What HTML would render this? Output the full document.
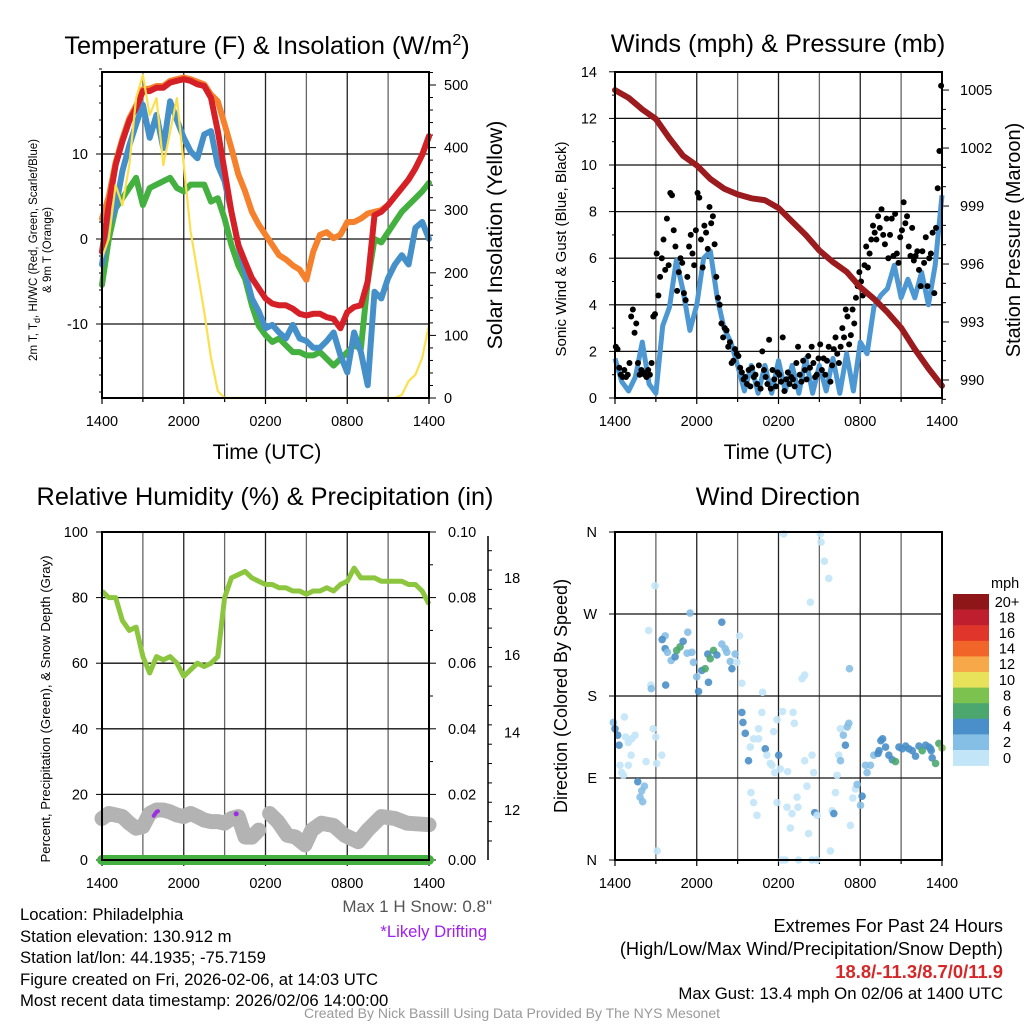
<!DOCTYPE html>
<html><head><meta charset="utf-8"><style>
html,body{margin:0;padding:0;background:#fff;}
svg{display:block;font-family:"Liberation Sans",Arial,sans-serif;}
</style></head><body>
<svg id="chart" width="1024" height="1024" viewBox="0 0 1024 1024" xmlns="http://www.w3.org/2000/svg">
<rect width="1024" height="1024" fill="#fff"/>
<g id="p1"></g>
<g id="p2"></g>
<g id="p3"></g>
<g id="p4"></g>
<g id="txt">
<text x="267" y="54" font-size="25.3" text-anchor="middle">Temperature (F) &amp; Insolation (W/m<tspan dy="-9" font-size="16">2</tspan><tspan dy="9">)</tspan></text>
<text x="778" y="52" font-size="25.3" text-anchor="middle">Winds (mph) &amp; Pressure (mb)</text>
<text x="265" y="505" font-size="25.3" text-anchor="middle">Relative Humidity (%) &amp; Precipitation (in)</text>
<text x="778" y="505" font-size="25.3" text-anchor="middle">Wind Direction</text>
<text x="267" y="459" font-size="21" text-anchor="middle">Time (UTC)</text>
<text x="778" y="459" font-size="21" text-anchor="middle">Time (UTC)</text>
<g transform="translate(37,250) rotate(-90)"><text x="0" y="0" font-size="11.5" text-anchor="middle">2m T, T<tspan dy="3" font-size="9">d</tspan><tspan dy="-3">, HI/WC (Red, Green, Scarlet/Blue)</tspan></text><text x="0" y="14" font-size="11.5" text-anchor="middle">&amp; 9m T (Orange)</text></g>
<text transform="translate(502,235) rotate(-90)" font-size="21.4" text-anchor="middle">Solar Insolation (Yellow)</text>
<text transform="translate(566,249) rotate(-90)" font-size="15" text-anchor="middle">Sonic Wind &amp; Gust (Blue, Black)</text>
<text transform="translate(1020,240) rotate(-90)" font-size="20" text-anchor="middle">Station Pressure (Maroon)</text>
<text transform="translate(50,709) rotate(-90)" font-size="13.2" text-anchor="middle">Percent, Precipitation (Green), &amp; Snow Depth (Gray)</text>
<text transform="translate(567,696) rotate(-90)" font-size="18" text-anchor="middle">Direction (Colored By Speed)</text>
<g font-size="16.7">
<text x="20" y="920">Location: Philadelphia</text>
<text x="20" y="942">Station elevation: 130.912 m</text>
<text x="20" y="963">Station lat/lon: 44.1935; -75.7159</text>
<text x="20" y="985">Figure created on Fri, 2026-02-06, at 14:03 UTC</text>
<text x="20" y="1006">Most recent data timestamp: 2026/02/06 14:00:00</text>
</g>
<text x="492" y="912" font-size="17" fill="#555" text-anchor="end">Max 1 H Snow: 0.8"</text>
<text x="487" y="937" font-size="16.7" fill="#a020f0" text-anchor="end">*Likely Drifting</text>
<text x="1003" y="932" font-size="18.2" text-anchor="end">Extremes For Past 24 Hours</text>
<text x="1003" y="955" font-size="18.2" text-anchor="end">(High/Low/Max Wind/Precipitation/Snow Depth)</text>
<text x="1003" y="978" font-size="18.4" font-weight="bold" fill="#d62728" text-anchor="end">18.8/-11.3/8.7/0/11.9</text>
<text x="1003" y="999" font-size="16.8" text-anchor="end">Max Gust: 13.4 mph On 02/06 at 1400 UTC</text>
<text x="512" y="1018" font-size="14" fill="#999" text-anchor="middle">Created By Nick Bassill Using Data Provided By The NYS Mesonet</text>
</g>
</svg>
<script>
// ---- data ----
const xTickLabels = ["1400","2000","0200","0800","1400"];
const tempRed = [-1.5,4,8.7,11.5,13.9,15.4,17.4,17.4,17.8,17.8,18.4,18.6,18.8,18.6,18.2,18,16.6,12.7,8,3.2,-0.7,-2.7,-4.6,-5.8,-7,-7.6,-7.8,-7.8,-8.2,-8.8,-9,-8.8,-8.8,-9.2,-9.4,-10.5,-8.6,-8,-7.8,-5,2.8,3.2,4,5,6,7,8.3,9.9,12.1];
const tempOrange = [2.4,5,9,11.8,14.2,15.7,17.6,17.7,18,18,18.6,18.8,19,18.8,18.5,18.2,17,16.2,13.5,10.7,7.6,5.6,3.2,1.7,0.5,-0.7,-1.9,-2.4,-3.1,-3.6,-4.8,-1.5,0.5,0.8,0.1,0.5,2,2,2.4,3,3.2,3.4,4,5,6,7,8.3,9.9,12.1];
const tempBlue = [-3,1.7,3.6,8,11,13.5,15.8,11.9,14.6,10.7,16.2,14,11.9,10.3,9.5,12.3,12.7,8.7,6.8,3.2,-0.7,-3.9,-7,-8.5,-10.5,-10.1,-11,-11.7,-10.1,-11.7,-12,-12.8,-12.8,-12,-11,-13.7,-15.7,-11,-13.3,-17.2,-6.2,-7,-4.6,-3,-1.9,-3,1.3,2,0];
const tempGreen = [-5.4,0,3.6,4.8,6,7.2,4,6,6.4,6.8,7.2,6,5.6,6.4,6.4,6.4,4.4,4.8,2.4,-0.7,-3.1,-4.7,-7.8,-10.2,-11.3,-12.1,-11.7,-12.5,-13.3,-13.3,-13.7,-13.7,-13.3,-14.1,-14.9,-14.1,-13.3,-12.5,-12.9,-5,0,-0.4,0.8,2,3.2,4,4.8,5.6,6.6];
const insolation = [223,255,340,308,372,479,516,452,479,372,425,479,372,266,202,138,64,11,0,0,0,0,0,0,0,0,0,0,0,0,0,0,0,0,0,0,0,0,0,0,0,0,0,0,5,27,37,64,117];
const tempTicks = [10,0,-10];
const solarTicks = [500,400,300,200,100,0];

const windSpeed = [1.7,0.7,0.3,0.9,2.4,0.6,0.2,3.1,3.9,5.9,4.6,2.9,4,6,6.3,4.3,3,2.4,1.4,0.3,1.4,0.2,1.4,0.2,1.6,0.3,1.4,0.2,1.7,0.2,1.4,0.3,1.7,0.2,1.9,0.3,2.4,1.9,3.9,4.4,4.7,5.7,4.3,5.1,4.3,5.4,4,5.7,8.7];
const gusts = [2.2,2.1,1.3,1.0,0.9,1.2,0.9,1.0, 1.5,3.5,3.8,2.8,3.2,1.5,1.0,1.2, 1.1,1.0,0.9,1.2,1.0,1.5,3.5,3.6, 6.2,4.4,5.2,6.0,6.8,5.5,7.7,5.7, 8.8,8.7,7.2,6.5,4.6,5.4,6.0,5.8, 4.5,4.2,5.2,6.5,7.0,6.2,5.7,7.2, 8.8,8.6,6.8,5.6,7.4,7.1,6.4,8.2, 7.5,7.8,6.6,5.2,4.3,4.0,3.2,2.6, 3.0,2.9,2.2,2.4,1.5,1.6,2.1,1.9, 1.8,1.3,1.1,0.8,0.9,0.6,1.2,0.5, 1.3,0.9,1.0,0.6,1.4,0.4,2.0,1.2, 0.9,0.6,2.5,0.4,1.2,0.8,0.5,1.1, 1.0,0.7,2.6,0.3,0.8,1.1,0.6,0.9, 0.8,0.5,1.5,2.2,1.0,0.7,1.6,1.2, 0.8,1.8,1.3,2.2,1.5,0.9,1.0,1.7, 2.3,1.2,1.7,1.0,1.6,2.2,0.7,1.4, 2.1,2.6,1.9,1.5,2.2,3.0,2.6,3.8, 3.5,2.3,2.7,3.8,3.2,4.3,4.8,5.4, 5.0,4.4,5.7,6.5,5.6,6.2,6.8,7.4, 7.1,6.8,7.8,7.3,8.1,7.0,6.6,7.7, 6.0,7.0,7.7,6.1,7.9,6.2,5.8,6.9, 7.2,8.4,7.5,7.8,6.5,6.1,7.3,5.9, 6.1,6.3,5.5,4.8,6.3,5.8,6.9,4.8, 6.0,6.2,7.1,4.5,7.3,9.0,10.6,13.4];
const pressure = [1005.0,1004.6,1004.0,1003.5,1002.5,1001.6,1001.1,1000.4,999.9,999.6,999.4,999.3,998.9,998.2,997.5,996.7,996.1,995.6,994.8,994.2,993.5,992.7,991.6,990.6,989.7];
const windTicks = [0,2,4,6,8,10,12,14];
const pressureTicks = [1005,1002,999,996,993,990];

const humidity = [82,80,80,73,70,71,62,57,62,61,62,60,56,58,60,59,60,62,80,86,87,88,86,85,84,84,83,83,82,82,81,82,82,83,82,84,85,89,86,86,86,85,85,85,85,84,84,82,78];
const snowHours = [0,0.5,1,1.5,2,2.5,3,3.5,4,4.5,5,5.5,6,6.5,7,7.5,8,8.5,9,9.5,10,10.5,11,11.5,null,12.3,12.9,13.6,14.2,14.9,15.4,16.1,17,17.8,18.8,19.5,20.5,21.5,22.4,24];
const snowDepth = [11.78,11.91,11.87,11.83,11.66,11.53,11.57,11.91,12.0,12.0,11.95,11.87,11.83,11.91,11.83,11.74,11.7,11.7,11.66,11.78,11.83,11.3,11.3,11.48,null,11.91,11.7,11.35,11.3,11.1,11.48,11.66,11.6,11.35,11.18,11.48,11.83,11.78,11.66,11.62];
const driftHours = [3.8,3.9,4.0,4.1,9.85];
const driftDepth = [11.85,11.9,11.95,11.97,11.9];
const precip = [0,0];
const rhTicks = [0,20,40,60,80,100];
const precipTicks = ["0.00","0.02","0.04","0.06","0.08","0.10"];
const snowTicks = [12,14,16,18];

const dirHours = [-0.12,0,0.2,0.3,0.69,0.78,0.98,1.23,1.47,1.18,0.98,0.37,0.49,0.61,1.67,1.96,2.16,1.84,2.03,2.28,3.06,2.8,2.99,3.43,3.1,2.94,2.47,2.63,2.66,3.68,3.46,4.12,4.41,3.68,3.85,3.72,4.53,4.78,5.0,5.29,5.34,5.51,5.64,5.76,6.0,6.13,6.37,6.81,6.99,6.62,6.86,7.23,7.48,7.84,7.84,8.09,8.21,8.46,8.58,8.82,8.94,9.14,9.31,9.31,9.39,9.56,9.8,9.98,10.17,10.42,10.54,10.54,10.78,10.83,11.03,11.15,11.4,11.52,11.72,11.89,11.89,12.01,12.13,12.3,12.38,12.62,12.67,12.87,12.99,13.07,13.16,13.36,13.43,13.73,13.92,13.92,14.09,14.21,14.34,14.58,14.46,14.66,14.83,15.07,15.12,15.37,15.69,15.81,15.93,16.06,16.18,16.3,16.42,16.54,16.55,16.76,16.91,17.04,17.16,17.21,17.28,17.45,17.65,17.77,18.02,18.14,18.38,18.5,18.75,18.99,19.31,19.38,19.51,19.64,19.86,20.1,20.35,20.59,20.84,21.08,21.33,21.57,21.82,22.06,22.31,22.55,22.8,23.04,23.21,23.16,23.28,23.53,23.77,24.0,9.93,10.17,11.64,12.25,12.5,13.48,14.46,14.83];
const dirDeg = [151,144,137,126,157,135,129,133,137,115,104,104,96,93,86,76,81,69,64,108,106,144,135,115,10,301,252,192,188,246,242,219,223,232,228,192,230,234,240,227,250,271,228,217,201,185,208,226,221,210,195,230,225,261,237,232,228,218,210,226,217,246,194,162,151,139,109,74,63,49,144,133,162,184,122,115,106,104,96,63,154,115,100,163,358,58,97,35,51,162,150,69,58,199,203,109,81,29,283,96,115,52,49,358,349,328,309,10,54,51,74,93,115,144,109,137,126,146,150,210,38,68,78,83,60,70,104,96,104,115,117,120,131,133,124,115,110,108,124,122,125,122,120,114,125,120,126,124,120,122,112,106,128,123,124,133,141,0,0,0,0,0,0,0,0];
const dirSpeed = [3,5,5,5,1,1,1,1,1,1,1,1,1,1,5,3,3,3,3,1,1,1,1,1,1,1,1,1,3,3,5,3,5,5,3,5,7,7,5,3,3,3,3,3,3,5,5,5,7,7,5,7,5,5,3,3,3,3,5,3,1,1,1,5,5,5,5,1,1,1,1,1,1,1,5,1,1,1,1,1,1,5,1,1,1,1,1,1,1,1,1,1,1,1,1,1,1,1,1,1,1,5,1,1,1,1,1,1,1,5,1,1,1,1,3,3,5,3,3,3,1,1,1,3,3,5,3,3,3,3,5,5,5,5,5,5,5,7,5,5,5,5,5,5,5,7,5,5,5,5,5,7,7,9,1,1,1,1,1,1,1,1];
const speedBins = ["0","2","4","6","8","10","12","14","16","18","20+"];
const speedColors = ["#c2e5f8","#86bfe6","#4a8fc9","#4ca76e","#7cc24f","#e8e15a","#f7a848","#f26529","#e0352b","#be1e2d","#8e1518"];
const dirTicks = ["N","E","S","W","N"];

// ---- helpers ----
const NS = "http://www.w3.org/2000/svg";
function mk(parent, tag, attrs){ const e=document.createElementNS(NS,tag); for(const k in attrs) e.setAttribute(k,attrs[k]); parent.appendChild(e); return e; }
function txt(parent, x, y, s, size, anchor, fill){ const t=mk(parent,'text',{x:x,y:y,'font-size':size,'text-anchor':anchor||'start',fill:fill||'#000'}); t.textContent=s; return t; }
function pathFrom(xs, ys){ let d='', pen=false; for(let i=0;i<xs.length;i++){ if(xs[i]===null||ys[i]===null){pen=false;continue;} d+=(pen?'L':'M')+xs[i].toFixed(1)+','+ys[i].toFixed(1); pen=true; } return d; }
function halfHours(n){ const a=[]; for(let i=0;i<n;i++) a.push(i*0.5); return a; }

function frame(g, L, T, R, B, hgrid, name){
  for(let h=3;h<24;h+=3){ const x=L+h*(R-L)/24;
    const ln=mk(g,'line',{x1:x,y1:T,x2:x,y2:B,stroke:(h%6===0?'#222':'#666'),'stroke-width':1.3});
      }
  hgrid.forEach(y=>{ const ln=mk(g,'line',{x1:L,y1:y,x2:R,y2:y,stroke:'#111','stroke-width':1.3});
      });
  for(let i=0;i<=8;i++){ const x=L+i*(R-L)/8; mk(g,'line',{x1:x,y1:B,x2:x,y2:B+(i%2===0?6:4),stroke:'#000','stroke-width':1.2}); }
  xTickLabels.forEach((s,i)=>{ const t=txt(g, L+i*(R-L)/4, B+28, s, 14.5, 'middle');
      });
}
function box(g,L,T,R,B,name){ const r=mk(g,'rect',{x:L,y:T,width:R-L,height:B-T,fill:'none',stroke:'#000','stroke-width':2});
    }

// ---- Panel 1 ----
(function(){
  const g=document.getElementById('p1');
  const L=102,T=72,R=429,B=398;
  const x=h=>L+h*(R-L)/24, yT=v=>239-v*8.5, yS=w=>398-w*0.626;
  frame(g,L,T,R,B,tempTicks.map(yT),'p1');
  tempTicks.forEach(v=>{ mk(g,'line',{x1:L-6,y1:yT(v),x2:L,y2:yT(v),stroke:'#000'}); const t=txt(g,L-14,yT(v)+5,String(v),14.5,'end');   });
  for(let v=-18;v<=20;v+=2){ mk(g,'line',{x1:L-3,y1:yT(v),x2:L,y2:yT(v),stroke:'#000'}); }
  for(let w=0;w<=520;w+=20){ mk(g,'line',{x1:R,y1:yS(w),x2:R+(w%100===0?7:4),y2:yS(w),stroke:'#000'}); }
  solarTicks.forEach(w=>{ const t=txt(g,R+15,yS(w)+5,String(w),14.5,'start');   });
  const hh=halfHours(49).map(x);
  const series=[[tempOrange,'#f5812c','orange-9m-temp'],[tempGreen,'#44b040','green-dewpoint'],[tempBlue,'#4590c9','blue-wind-chill'],[tempRed,'#d62028','red-2m-temp']];
  series.forEach(s=>{ const p=mk(g,'path',{d:pathFrom(hh,s[0].map(yT)),fill:'none',stroke:s[1],'stroke-width':6,'stroke-linejoin':'round','stroke-linecap':'round'});
      });
  const p=mk(g,'path',{d:pathFrom(hh,insolation.map(yS)),fill:'none',stroke:'#fbe04e','stroke-width':2.2,'stroke-linejoin':'round'});
   
  box(g,L,T,R,B,'p1');
})();

// ---- Panel 2 ----
(function(){
  const g=document.getElementById('p2');
  const L=615,T=72,R=942,B=398;
  const x=h=>L+h*(R-L)/24, yW=v=>398-v*23.3, yP=p=>380-(p-990)*19.33;
  frame(g,L,T,R,B,windTicks.filter(v=>v>0&&v<14).map(yW),'p2');
  windTicks.forEach(v=>{ mk(g,'line',{x1:L-6,y1:yW(v),x2:L,y2:yW(v),stroke:'#000'}); const t=txt(g,L-18,yW(v)+5,String(v),14.5,'end');   });
  for(let v=1;v<14;v+=2){ mk(g,'line',{x1:L-3,y1:yW(v),x2:L,y2:yW(v),stroke:'#000'}); }
  for(let p=989;p<=1005;p+=1){ mk(g,'line',{x1:R,y1:yP(p),x2:R+(pressureTicks.includes(p)?7:4),y2:yP(p),stroke:'#000'}); }
  pressureTicks.forEach(p=>{ const t=txt(g,R+18,yP(p)+5,String(p),14.5,'start');   });
  const w=mk(g,'path',{d:pathFrom(halfHours(49).map(x),windSpeed.map(yW)),fill:'none',stroke:'#4d98d2','stroke-width':5,'stroke-linejoin':'round'});
   
  gusts.forEach((v,i)=>{ const c=mk(g,'circle',{cx:x(i/8+0.06),cy:yW(v),r:3,fill:'#000'});
      });
  const ph=pressure.map((p,i)=>x(i));
  const pr=mk(g,'path',{d:pathFrom(ph,pressure.map(yP)),fill:'none',stroke:'#9b1b1e','stroke-width':6,'stroke-linejoin':'round','stroke-linecap':'round'});
   
  box(g,L,T,R,B,'p2');
})();

// ---- Panel 3 ----
(function(){
  const g=document.getElementById('p3');
  const L=102,T=532,R=429,B=860;
  const x=h=>L+h*(R-L)/24, yRH=v=>860-v*3.28, yPr=p=>860-p*3280, ySn=s=>810-(s-12)*38.7;
  frame(g,L,T,R,B,[20,40,60,80].map(yRH),'p3');
  rhTicks.forEach(v=>{ mk(g,'line',{x1:L-6,y1:yRH(v),x2:L,y2:yRH(v),stroke:'#000'}); const t=txt(g,L-14,yRH(v)+5,String(v),14.5,'end');   });
  precipTicks.forEach(s=>{ const yy=yPr(parseFloat(s)); mk(g,'line',{x1:R,y1:yy,x2:R+7,y2:yy,stroke:'#000'}); const t=txt(g,R+19,yy+5,s,14.5,'start');   });
  for(let p=0.01;p<0.1;p+=0.02){ mk(g,'line',{x1:R,y1:yPr(p),x2:R+4,y2:yPr(p),stroke:'#000'}); }
  const sa=mk(g,'line',{x1:488,y1:536,x2:488,y2:B,stroke:'#000','stroke-width':1.5});
   
  for(let s=11.2;s<=19;s+=0.5){ const yy=ySn(s); if(yy<536||yy>B) continue; const major=Math.abs(s-Math.round(s))<0.01&&Math.round(s)%2===0; mk(g,'line',{x1:488,y1:yy,x2:488+(major?7:4),y2:yy,stroke:'#000'}); }
  snowTicks.forEach(s=>{ const t=txt(g,504,ySn(s)+5,String(s),14.5,'start');   });
  const sn=mk(g,'path',{d:pathFrom(snowHours.map(h=>h===null?null:x(h)),snowDepth.map(s=>s===null?null:ySn(s))),fill:'none',stroke:'#b3b3b3','stroke-width':15,'stroke-linejoin':'round','stroke-linecap':'round'});
   
  const dr=mk(g,'path',{d:pathFrom(driftHours.slice(0,4).map(x),driftDepth.slice(0,4).map(ySn)),fill:'none',stroke:'#9b30e0','stroke-width':4,'stroke-linecap':'round'});
   
  const dc=mk(g,'circle',{cx:x(driftHours[4]),cy:ySn(driftDepth[4]),r:2.5,fill:'#9b30e0'});
   
  const rh=mk(g,'path',{d:pathFrom(halfHours(49).map(x),humidity.map(yRH)),fill:'none',stroke:'#8cc63f','stroke-width':5,'stroke-linejoin':'round'});
   
  const pc=mk(g,'path',{d:pathFrom([x(0),x(24)],precip.map(yPr)),fill:'none',stroke:'#44b040','stroke-width':10,'stroke-linecap':'round'});
   
  box(g,L,T,R,B,'p3');
})();

// ---- Panel 4 ----
(function(){
  const g=document.getElementById('p4');
  const L=615,T=532,R=942,B=860;
  const x=h=>L+h*(R-L)/24, yD=d=>860-d*328/360;
  frame(g,L,T,R,B,[90,180,270].map(yD),'p4');
  dirTicks.forEach((s,i)=>{ const yy=yD(i*90); mk(g,'line',{x1:L-6,y1:yy,x2:L,y2:yy,stroke:'#000'}); const t=txt(g,L-18,yy+5,s,14.5,'end');   });
  dirHours.forEach((h,i)=>{ const bin=Math.min(10,Math.floor(dirSpeed[i]/2));
    const c=mk(g,'circle',{cx:x(h),cy:yD(dirDeg[i]),r:3.8,fill:speedColors[bin],'fill-opacity':0.9});
      });
  box(g,L,T,R,B,'p4');
  const cb=mk(g,'g',{});
   
  const t0=txt(cb,991,588,'mph',14.5,'start');  
  const top=594, h=15.6;
  for(let i=10;i>=0;i--){ const yy=top+(10-i)*h;
    const r=mk(cb,'rect',{x:953,y:yy,width:36,height:h+0.3,fill:speedColors[i]});
     
    const t=txt(cb,1007,yy+h/2+5,speedBins[i],14.5,'middle');   }
})();
</script>
</body></html>
